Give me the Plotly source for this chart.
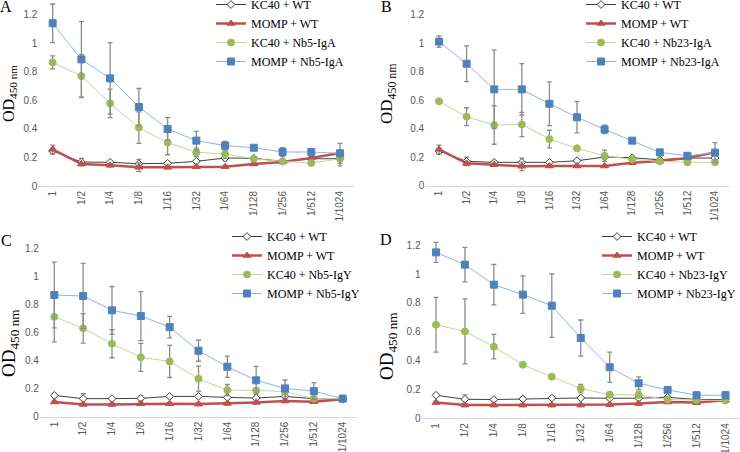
import plotly.graph_objects as go

# 1. Data (OD450 per dilution)
dilutions = ['1', '1/2', '1/4', '1/8', '1/16', '1/32', '1/64', '1/128', '1/256', '1/512', '1/1024']

# Panel A - Nb5-IgA
a_kc40_wt = [0.245, 0.168, 0.166, 0.156, 0.159, 0.173, 0.196, 0.194, 0.173, 0.191, 0.191]
a_kc40_wt_err = [0.02, 0.025, 0.01, 0.03, 0.01, 0.01, 0.02, 0.01, 0.01, 0.01, 0.01]
a_momp_wt = [0.257, 0.154, 0.145, 0.131, 0.131, 0.135, 0.135, 0.154, 0.168, 0.196, 0.231]
a_momp_wt_err = [0.03, 0.01, 0.01, 0.03, 0.01, 0.01, 0.01, 0.01, 0.01, 0.01, 0.01]
a_kc40_nb = [0.866, 0.770, 0.579, 0.409, 0.304, 0.236, 0.224, 0.191, 0.173, 0.161, 0.191]
a_kc40_nb_err = [0.045, 0.15, 0.1, 0.11, 0.085, 0.03, 0.03, 0.01, 0.01, 0.01, 0.05]
a_momp_nb = [1.14, 0.887, 0.754, 0.553, 0.399, 0.318, 0.283, 0.268, 0.238, 0.238, 0.229]
a_momp_nb_err = [0.135, 0.265, 0.25, 0.13, 0.08, 0.065, 0.03, 0.01, 0.03, 0.01, 0.07]

# Panel B - Nb23-IgA
b_kc40_wt = [0.243, 0.171, 0.164, 0.164, 0.164, 0.175, 0.201, 0.196, 0.182, 0.194, 0.194]
b_kc40_wt_err = [0.02, 0.03, 0.01, 0.03, 0.01, 0.01, 0.01, 0.01, 0.01, 0.01, 0.01]
b_momp_wt = [0.255, 0.157, 0.147, 0.136, 0.138, 0.138, 0.138, 0.161, 0.173, 0.194, 0.234]
b_momp_wt_err = [0.03, 0.01, 0.01, 0.03, 0.01, 0.01, 0.01, 0.01, 0.01, 0.01, 0.01]
b_kc40_nb = [0.592, 0.484, 0.426, 0.430, 0.327, 0.262, 0.21, 0.185, 0.171, 0.164, 0.164]
b_kc40_nb_err = [0.01, 0.063, 0.135, 0.085, 0.062, 0.01, 0.04, 0.01, 0.01, 0.01, 0.01]
b_momp_nb = [1.011, 0.856, 0.676, 0.676, 0.575, 0.48, 0.395, 0.316, 0.234, 0.21, 0.232]
b_momp_nb_err = [0.04, 0.125, 0.276, 0.18, 0.153, 0.11, 0.03, 0.01, 0.01, 0.02, 0.07]

# Panel C - Nb5-IgY
c_kc40_wt = [0.152, 0.129, 0.129, 0.131, 0.145, 0.145, 0.138, 0.133, 0.145, 0.129, 0.124]
c_kc40_wt_err = [0.015, 0.035, 0.01, 0.02, 0.01, 0.01, 0.01, 0.01, 0.01, 0.01, 0.01]
c_momp_wt = [0.105, 0.088, 0.088, 0.093, 0.093, 0.09, 0.095, 0.102, 0.112, 0.107, 0.124]
c_momp_wt_err = [0.01, 0.01, 0.01, 0.01, 0.01, 0.01, 0.01, 0.01, 0.01, 0.01, 0.01]
c_kc40_nb = [0.714, 0.631, 0.521, 0.424, 0.395, 0.271, 0.19, 0.188, 0.179, 0.129, 0.129]
c_kc40_nb_err = [0.18, 0.105, 0.1, 0.1, 0.115, 0.09, 0.04, 0.01, 0.01, 0.01, 0.01]
c_momp_nb = [0.869, 0.862, 0.76, 0.719, 0.64, 0.471, 0.357, 0.26, 0.202, 0.183, 0.129]
c_momp_nb_err = [0.235, 0.233, 0.17, 0.175, 0.077, 0.075, 0.076, 0.1, 0.06, 0.06, 0.02]

# Panel D - Nb23-IgY
d_kc40_wt = [0.16, 0.132, 0.13, 0.134, 0.141, 0.141, 0.139, 0.139, 0.146, 0.13, 0.13]
d_kc40_wt_err = [0.01, 0.03, 0.01, 0.015, 0.01, 0.01, 0.01, 0.01, 0.01, 0.01, 0.01]
d_momp_wt = [0.109, 0.092, 0.092, 0.092, 0.092, 0.092, 0.095, 0.102, 0.113, 0.109, 0.125]
d_momp_wt_err = [0.01, 0.01, 0.01, 0.01, 0.01, 0.01, 0.01, 0.01, 0.01, 0.01, 0.01]
d_kc40_nb = [0.649, 0.603, 0.497, 0.372, 0.289, 0.206, 0.164, 0.162, 0.13, 0.127, 0.123]
d_kc40_nb_err = [0.19, 0.225, 0.085, 0.01, 0.01, 0.03, 0.02, 0.02, 0.01, 0.01, 0.01]
d_momp_nb = [1.151, 1.066, 0.927, 0.858, 0.781, 0.557, 0.354, 0.243, 0.197, 0.16, 0.16]
d_momp_nb_err = [0.07, 0.12, 0.14, 0.13, 0.22, 0.125, 0.105, 0.045, 0.01, 0.02, 0.025]

W, H = 740, 452

panels = [
    # letter, nanobody, data, x px (left, right), y px (zero, top), legend (x, top), OD label (x, y, size), letter pos
    dict(letter='A', nb='Nb5-IgA', data=[a_kc40_wt, a_momp_wt, a_kc40_nb, a_momp_nb],
         err=[a_kc40_wt_err, a_momp_wt_err, a_kc40_nb_err, a_momp_nb_err],
         xpx=(38.3, 354.4), ypx=(186, 0.43), leg=(211, -10), od=(9, 94, 16), lpos=(6, 7)),
    dict(letter='B', nb='Nb23-IgA', data=[b_kc40_wt, b_momp_wt, b_kc40_nb, b_momp_nb],
         err=[b_kc40_wt_err, b_momp_wt_err, b_kc40_nb_err, b_momp_nb_err],
         xpx=(425.2, 728.8), ypx=(185.7, 0.45), leg=(581, -10), od=(388, 94, 17), lpos=(386, 7)),
    dict(letter='C', nb='Nb5-IgY', data=[c_kc40_wt, c_momp_wt, c_kc40_nb, c_momp_nb],
         err=[c_kc40_wt_err, c_momp_wt_err, c_kc40_nb_err, c_momp_nb_err],
         xpx=(39.9, 357.1), ypx=(416.7, 234.7), leg=(227, 222), od=(10, 343, 19), lpos=(6, 240)),
    dict(letter='D', nb='Nb23-IgY', data=[d_kc40_wt, d_momp_wt, d_kc40_nb, d_momp_nb],
         err=[d_kc40_wt_err, d_momp_wt_err, d_kc40_nb_err, d_momp_nb_err],
         xpx=(421.5, 740), ypx=(418.3, 230.9), leg=(597, 222), od=(388, 346, 19), lpos=(386, 239)),
]

# 2. Series styles (Excel-like)
styles = [
    dict(line=dict(color='#404040', width=1),
         marker=dict(symbol='diamond', size=6, color='white', line=dict(color='#404040', width=1))),
    dict(line=dict(color='#C0504D', width=2.5),
         marker=dict(symbol='triangle-up', size=7, color='#C0504D', line=dict(color='#C0504D', width=1))),
    dict(line=dict(color='#C3D69B', width=1),
         marker=dict(symbol='circle', size=7, color='#9BBB59', line=dict(color='#9BBB59', width=1))),
    dict(line=dict(color='#8EB4E3', width=1),
         marker=dict(symbol='square', size=7, color='#4F81BD', line=dict(color='#4F81BD', width=1))),
]

fig = go.Figure()
layout = dict(width=W, height=H, margin=dict(l=0, r=0, t=0, b=0, autoexpand=False),
              paper_bgcolor='white', plot_bgcolor='white', annotations=[])

for i, p in enumerate(panels):
    n = '' if i == 0 else str(i + 1)
    names = ['KC40 + WT', 'MOMP + WT', 'KC40 + ' + p['nb'], 'MOMP + ' + p['nb']]
    leg = 'legend' + n
    for j in range(4):
        fig.add_trace(go.Scatter(
            x=dilutions, y=p['data'][j], name=names[j], mode='lines+markers',
            line=styles[j]['line'], marker=styles[j]['marker'],
            error_y=dict(type='data', array=p['err'][j], color='#8C8C8C', thickness=1.3, width=2.5),
            xaxis='x' + n, yaxis='y' + n, legend=leg, cliponaxis=False))

    x0, x1 = p['xpx']
    yb, yt = p['ypx']
    layout['xaxis' + n] = dict(domain=[x0 / W, x1 / W], anchor='y' + n, range=[-0.5, 10.5],
                               showline=True, linecolor='#D9D9D9', linewidth=1, showgrid=False,
                               ticks='', tickangle=-90, fixedrange=True, automargin=False,
                               tickfont=dict(family='Liberation Sans', size=10, color='#595959'))
    layout['yaxis' + n] = dict(domain=[1 - yb / H, 1 - yt / H], anchor='x' + n, range=[0, 1.3],
                               tickvals=[0, 0.2, 0.4, 0.6, 0.8, 1, 1.2],
                               ticktext=['0', '0.2', '0.4', '0.6', '0.8', '1', '1.2'],
                               showline=False, showgrid=False, zeroline=False, ticks='',
                               automargin=False,
                               tickfont=dict(family='Liberation Sans', size=10, color='#595959'))
    lx, ly = p['leg']
    layout[leg] = dict(x=lx / W, y=1 - ly / H, xanchor='left', yanchor='top',
                       bgcolor='rgba(0,0,0,0)', tracegroupgap=0,
                       font=dict(family='Liberation Serif', size=12, color='black'))

    ox, oy, osz = p['od']
    layout['annotations'].append(dict(
        text='OD<sub>450 nm</sub>', textangle=-90, x=ox / W, y=1 - oy / H, xref='paper', yref='paper',
        xanchor='center', yanchor='middle', showarrow=False,
        font=dict(family='Liberation Serif', size=osz, color='black')))
    px_, py_ = p['lpos']
    layout['annotations'].append(dict(
        text=p['letter'], x=px_ / W, y=1 - py_ / H, xref='paper', yref='paper',
        xanchor='center', yanchor='middle', showarrow=False,
        font=dict(family='Liberation Serif', size=16, color='black')))

fig.update_layout(**layout)

# drop the default page margin so the figure sits at the window's top-left corner
fig.write_html('out.html', config={'displayModeBar': False},
               post_script="document.body.style.margin='0px';")
